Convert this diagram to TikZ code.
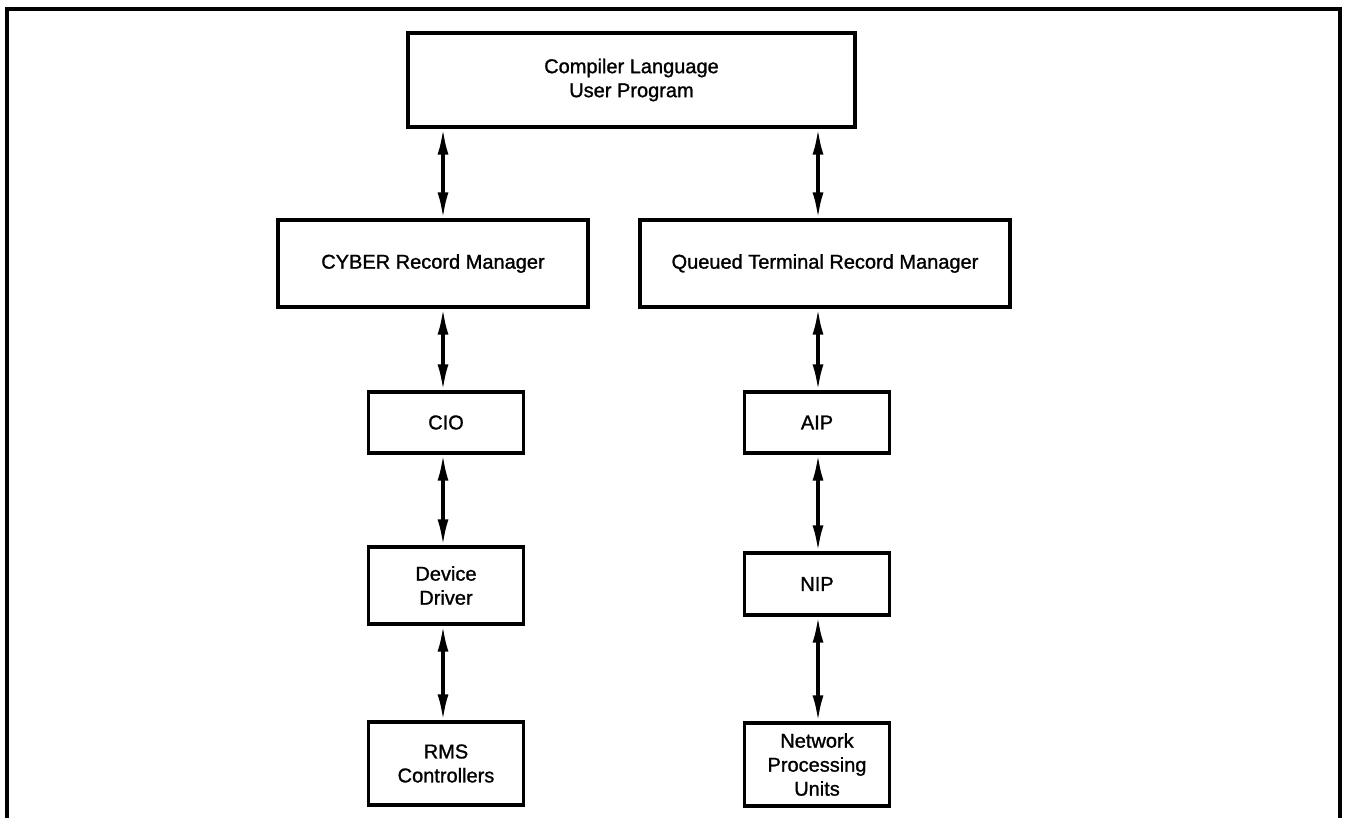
\documentclass[tikz,border=0pt]{standalone}
\usepackage{fontspec}
\setmainfont{Liberation Sans}[FakeBold=1.2]
\usetikzlibrary{arrows.meta}
\begin{document}
\begin{tikzpicture}[x=1pt,y=-1pt,
  box/.style={draw, line width=3.2pt, align=center, inner sep=0pt, font=\fontsize{20}{24}\selectfont},
  link/.style={line width=3.2pt, {Latex[length=26pt,width=11pt]}-{Latex[length=26pt,width=11pt]}}]
\useasboundingbox (0,0) rectangle (1347,818);
\draw[line width=3.2pt] (7,818) -- (7,9) -- (1340,9) -- (1340,818);
\coordinate (L) at (443,0);
\coordinate (R) at (818,0);
\node[box, minimum width=447pt, minimum height=94pt] (top) at (631.5,80) {Compiler Language\\User Program};
\node[box, minimum width=310pt, minimum height=87pt] (cyber) at (433,263.5) {CYBER Record Manager};
\node[box, minimum width=370pt, minimum height=87pt] (qtrm) at (825,263.5) {Queued Terminal Record Manager};
\node[box, minimum width=155pt, minimum height=61pt] (cio) at (446,422.5) {CIO};
\node[box, minimum width=155pt, minimum height=77pt] (dd) at (446,585.5) {Device\\Driver};
\node[box, minimum width=155pt, minimum height=83pt] (rms) at (446,763.5) {RMS\\Controllers};
\node[box, minimum width=145pt, minimum height=61pt] (aip) at (817,422.5) {AIP};
\node[box, minimum width=145pt, minimum height=62pt] (nip) at (817,584) {NIP};
\node[box, minimum width=145pt, minimum height=83pt] (npu) at (817,764.5) {Network\\Processing\\Units};
\draw[link] (top.south -| L) -- (cyber.north -| L);
\draw[link] (cyber.south -| L) -- (cio.north -| L);
\draw[link] (cio.south -| L) -- (dd.north -| L);
\draw[link] (dd.south -| L) -- (rms.north -| L);
\draw[link] (top.south -| R) -- (qtrm.north -| R);
\draw[link] (qtrm.south -| R) -- (aip.north -| R);
\draw[link] (aip.south -| R) -- (nip.north -| R);
\draw[link] (nip.south -| R) -- (npu.north -| R);
\end{tikzpicture}
\end{document}
